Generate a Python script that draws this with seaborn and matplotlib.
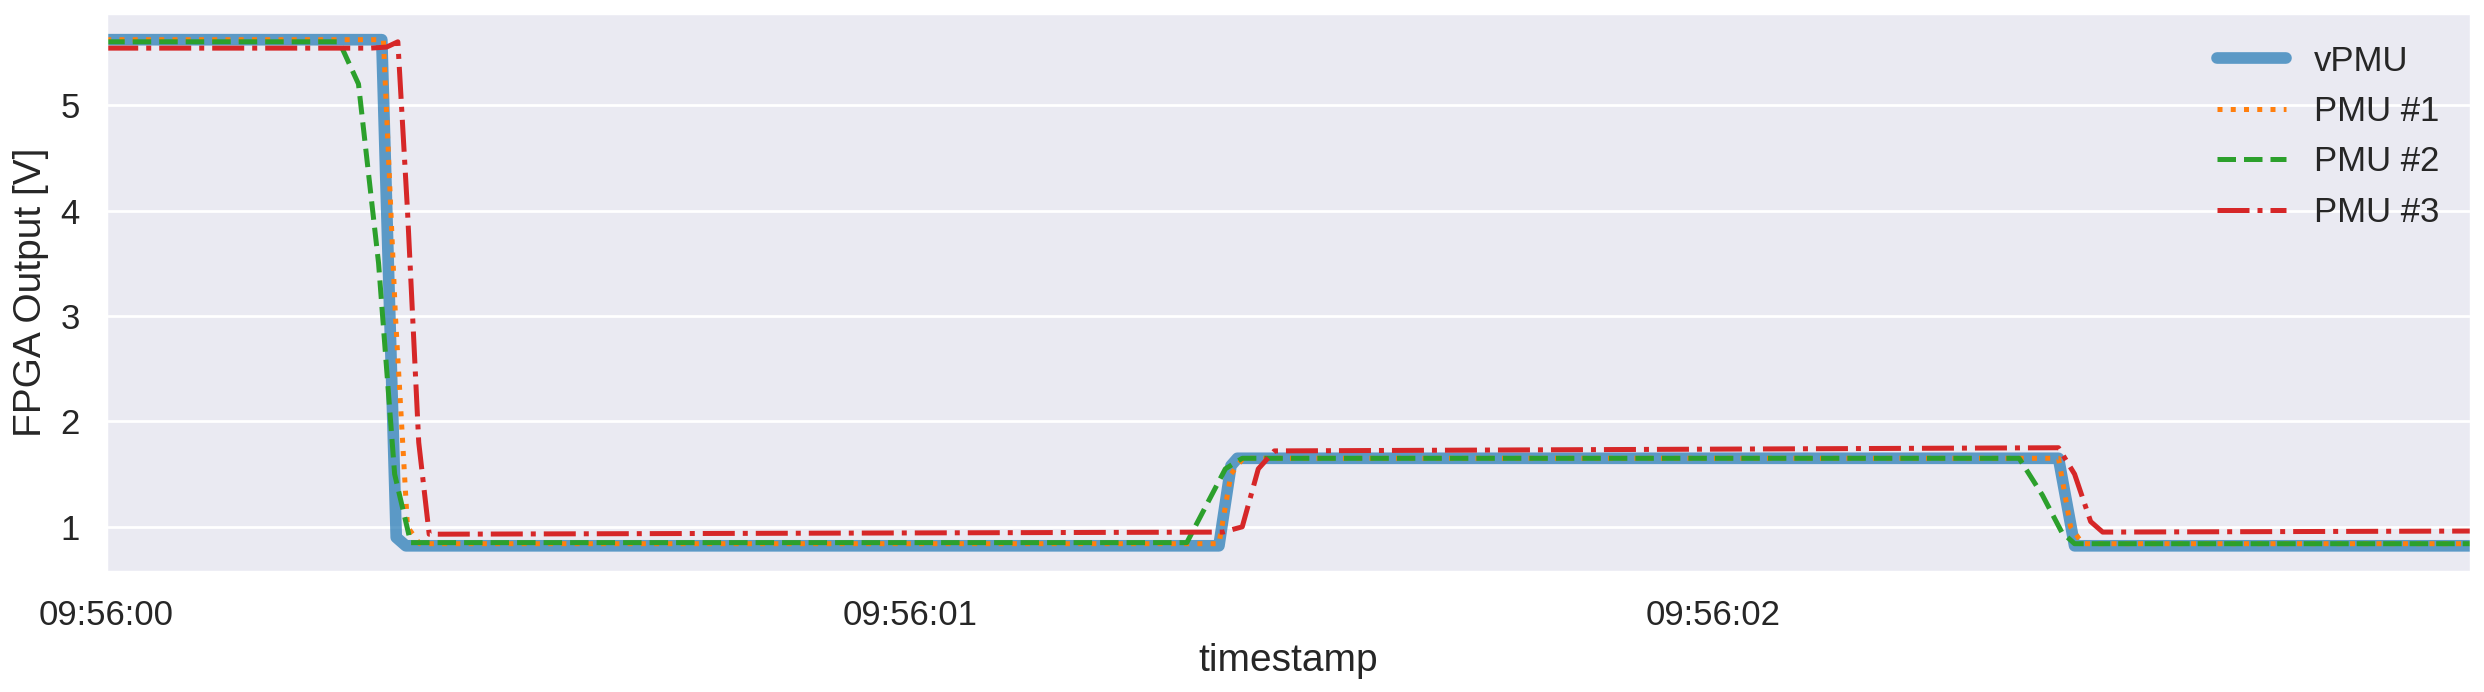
import numpy as np
import pandas as pd
import matplotlib
matplotlib.use("Agg")
import matplotlib.pyplot as plt
import matplotlib.dates as mdates
import seaborn as sns

# breakpoints: seconds after 09:56:00, voltage
vpmu_t = [0, 0.343, 0.361, 0.373, 1.385, 1.400, 1.408, 2.430, 2.450, 2.943]
vpmu_v = [5.62, 5.62, 0.90, 0.82, 0.82, 1.58, 1.65, 1.65, 0.82, 0.82]

pmu1_t = [0, 0.345, 0.360, 0.375, 0.390, 1.385, 1.400, 1.415, 2.430, 2.445, 2.460, 2.943]
pmu1_v = [5.62, 5.62, 3.0, 1.0, 0.84, 0.84, 1.5, 1.65, 1.65, 1.0, 0.84, 0.84]

pmu2_t = [0, 0.290, 0.314, 0.339, 0.359, 0.379, 1.345, 1.369, 1.393, 1.414, 2.381, 2.410, 2.434, 2.450, 2.943]
pmu2_v = [5.60, 5.60, 5.2, 3.5, 1.5, 0.85, 0.85, 1.2, 1.55, 1.65, 1.65, 1.3, 0.95, 0.84, 0.84]

pmu3_t = [0, 0.329, 0.349, 0.363, 0.375, 0.389, 0.402, 1.390, 1.414, 1.434, 1.454, 2.430, 2.450, 2.470, 2.485, 2.943]
pmu3_v = [5.54, 5.54, 5.55, 5.60, 4.0, 1.8, 0.93, 0.95, 1.0, 1.55, 1.72, 1.75, 1.5, 1.05, 0.95, 0.96]

start = pd.Timestamp("2021-01-01 09:56:00")


def to_frame(t, v):
    return pd.DataFrame({"timestamp": start + pd.to_timedelta(t, unit="s"), "v": v})


sns.set_theme(style="darkgrid")
plt.rcParams["font.family"] = ["Liberation Sans", "DejaVu Sans"]
fig, ax = plt.subplots(figsize=(12.42, 3.46), dpi=200)

sns.lineplot(data=to_frame(vpmu_t, vpmu_v), x="timestamp", y="v", ax=ax,
             color="tab:blue", alpha=0.7, linewidth=4.2, label="vPMU")
sns.lineplot(data=to_frame(pmu1_t, pmu1_v), x="timestamp", y="v", ax=ax,
             color="tab:orange", linestyle=":", linewidth=1.8, label="PMU #1")
sns.lineplot(data=to_frame(pmu2_t, pmu2_v), x="timestamp", y="v", ax=ax,
             color="tab:green", linestyle="--", linewidth=1.8, label="PMU #2")
sns.lineplot(data=to_frame(pmu3_t, pmu3_v), x="timestamp", y="v", ax=ax,
             color="tab:red", linestyle="-.", linewidth=1.8, label="PMU #3")

ax.set_xlim(start, start + pd.Timedelta(seconds=2.943))
ax.set_ylim(0.57, 5.87)
ax.xaxis.set_major_locator(mdates.SecondLocator())
ax.xaxis.set_major_formatter(mdates.DateFormatter("%H:%M:%S"))
ax.grid(axis="x", visible=False)
ax.set_xlabel("timestamp", fontsize=14)
ax.set_ylabel("FPGA Output [V]", fontsize=14)
ax.tick_params(labelsize=12.5)
ax.legend(frameon=False, fontsize=12.5, loc="upper right")

plt.tight_layout(pad=0.4)
plt.savefig("out.png", dpi=200)
